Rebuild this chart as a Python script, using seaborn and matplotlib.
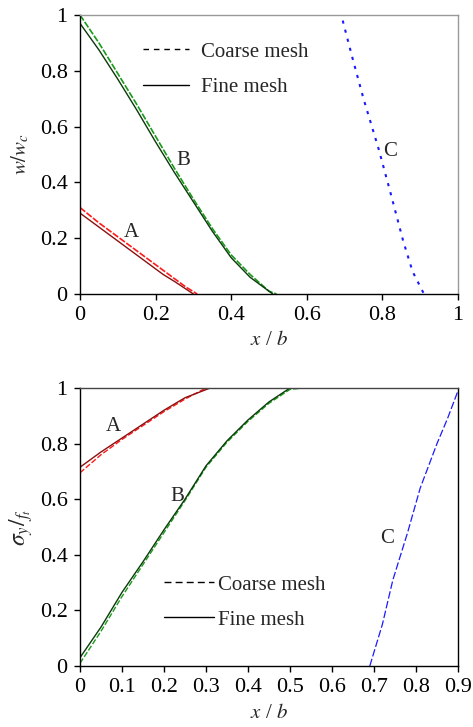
import matplotlib
matplotlib.use("Agg")
import matplotlib.pyplot as plt
import seaborn as sns

# ---- top panel data: w/wc vs x/b ----
top_A_coarse_x = [0.0, 0.05, 0.10, 0.14, 0.18, 0.22, 0.25, 0.28, 0.31]
top_A_coarse_y = [0.31, 0.255, 0.205, 0.165, 0.125, 0.085, 0.055, 0.025, 0.0]
top_A_fine_x = [0.0, 0.05, 0.10, 0.14, 0.18, 0.22, 0.25, 0.28, 0.30]
top_A_fine_y = [0.29, 0.24, 0.19, 0.15, 0.11, 0.07, 0.045, 0.018, 0.0]
top_B_coarse_x = [0.0, 0.05, 0.10, 0.15, 0.20, 0.25, 0.30, 0.35, 0.40, 0.45, 0.50, 0.52]
top_B_coarse_y = [1.0, 0.90, 0.79, 0.68, 0.565, 0.45, 0.34, 0.235, 0.14, 0.07, 0.01, 0.0]
top_B_fine_x = [0.0, 0.05, 0.10, 0.15, 0.20, 0.25, 0.30, 0.35, 0.40, 0.45, 0.51]
top_B_fine_y = [0.97, 0.875, 0.77, 0.66, 0.545, 0.435, 0.33, 0.225, 0.13, 0.06, 0.0]
top_C_x = [0.695, 0.72, 0.75, 0.79, 0.82, 0.855, 0.88, 0.91]
top_C_y = [0.98, 0.85, 0.70, 0.52, 0.37, 0.19, 0.08, 0.0]

# ---- bottom panel data: sigma_y/f_t vs x/b ----
bot_A_coarse_x = [0.0, 0.05, 0.10, 0.15, 0.20, 0.25, 0.30]
bot_A_coarse_y = [0.695, 0.76, 0.815, 0.865, 0.915, 0.96, 1.0]
bot_A_fine_x = [0.0, 0.05, 0.10, 0.15, 0.20, 0.25, 0.31]
bot_A_fine_y = [0.715, 0.77, 0.82, 0.87, 0.92, 0.965, 1.0]
bot_B_coarse_x = [0.0, 0.05, 0.10, 0.15, 0.20, 0.25, 0.30, 0.35, 0.40, 0.45, 0.50, 0.53]
bot_B_coarse_y = [0.01, 0.125, 0.25, 0.365, 0.48, 0.595, 0.715, 0.805, 0.88, 0.945, 0.995, 1.0]
bot_B_fine_x = [0.0, 0.05, 0.10, 0.15, 0.20, 0.25, 0.30, 0.35, 0.40, 0.45, 0.50]
bot_B_fine_y = [0.03, 0.14, 0.265, 0.375, 0.49, 0.60, 0.72, 0.81, 0.885, 0.95, 1.0]
bot_C_x = [0.69, 0.72, 0.745, 0.78, 0.81, 0.85, 0.875, 0.90]
bot_C_y = [0.0, 0.15, 0.31, 0.48, 0.64, 0.80, 0.89, 0.99]

top_xticks = [0, 0.2, 0.4, 0.6, 0.8, 1]
top_xticklabels = ["0", "0.2", "0.4", "0.6", "0.8", "1"]
bot_xticks = [0, 0.1, 0.2, 0.3, 0.4, 0.5, 0.6, 0.7, 0.8, 0.9]
bot_xticklabels = ["0", "0.1", "0.2", "0.3", "0.4", "0.5", "0.6", "0.7", "0.8", "0.9"]
yticks = [0, 0.2, 0.4, 0.6, 0.8, 1]
yticklabels = ["0", "0.2", "0.4", "0.6", "0.8", "1"]

sns.set_theme(style="ticks")
plt.rcParams["font.family"] = ["Liberation Serif", "DejaVu Serif"]
plt.rcParams["mathtext.fontset"] = "stix"
FS = 15
TFS = 16
plt.rcParams["font.size"] = FS

fig = plt.figure(figsize=(4.73, 7.27), dpi=100)
ax1 = fig.add_axes([80/473, 1-294/727, 378/473, 279/727])
ax2 = fig.add_axes([80/473, 1-666/727, 378/473, 278/727])

RED = "#ff1a1a"
DRED = "#8b1010"
GREEN = "#1a9a1a"
DGREEN = "#0a3a0a"
BLUE = "#1a1aff"

# top
sns.lineplot(x=top_A_coarse_x, y=top_A_coarse_y, ax=ax1, color=RED, lw=1.2, linestyle=(0, (4, 1)))
sns.lineplot(x=top_A_fine_x, y=top_A_fine_y, ax=ax1, color=DRED, lw=1.0)
sns.lineplot(x=top_B_coarse_x, y=top_B_coarse_y, ax=ax1, color=GREEN, lw=1.2, linestyle=(0, (4, 1)))
sns.lineplot(x=top_B_fine_x, y=top_B_fine_y, ax=ax1, color=DGREEN, lw=1.0)
sns.lineplot(x=top_C_x, y=top_C_y, ax=ax1, color=BLUE, lw=1.5, linestyle=(0, (1.5, 3)))

ax1.plot([], [], color="black", lw=1.0, linestyle=(0, (4, 3.5)), label="Coarse mesh")
ax1.plot([], [], color="black", lw=1.0, label="Fine mesh")
ax1.legend(loc="upper left", bbox_to_anchor=(0.117, 0.97), frameon=False, fontsize=FS,
           handlelength=2.2, labelspacing=0.75, handletextpad=0.6)

ax1.text(0.137, 0.22, "A", fontsize=FS, ha="center", va="center")
ax1.text(0.272, 0.48, "B", fontsize=FS, ha="center", va="center")
ax1.text(0.82, 0.51, "C", fontsize=FS, ha="center", va="center")

ax1.set_xlim(0, 1)
ax1.set_ylim(0, 1)
ax1.set_xticks(top_xticks)
ax1.set_xticklabels(top_xticklabels)
ax1.set_yticks(yticks)
ax1.set_yticklabels(yticklabels)
ax1.set_xlabel(r"$x$ / $b$", fontsize=FS, labelpad=4)
ax1.set_ylabel(r"$w/w_c$", fontsize=FS, labelpad=6)

# bottom
sns.lineplot(x=bot_A_coarse_x, y=bot_A_coarse_y, ax=ax2, color=RED, lw=1.0, linestyle=(0, (4, 1.5)))
sns.lineplot(x=bot_A_fine_x, y=bot_A_fine_y, ax=ax2, color=DRED, lw=1.0)
sns.lineplot(x=bot_B_coarse_x, y=bot_B_coarse_y, ax=ax2, color=GREEN, lw=1.0, linestyle=(0, (4, 1.5)))
sns.lineplot(x=bot_B_fine_x, y=bot_B_fine_y, ax=ax2, color=DGREEN, lw=1.0)
sns.lineplot(x=bot_C_x, y=bot_C_y, ax=ax2, color=BLUE, lw=0.9, linestyle=(0, (6, 2)))

ax2.plot([], [], color="black", lw=1.0, linestyle=(0, (5, 3)), label="Coarse mesh")
ax2.plot([], [], color="black", lw=1.0, label="Fine mesh")
ax2.legend(loc="upper left", bbox_to_anchor=(0.172, 0.395), frameon=False, fontsize=FS,
           handlelength=2.4, labelspacing=0.75, handletextpad=0.2)

ax2.text(0.079, 0.86, "A", fontsize=FS, ha="center", va="center")
ax2.text(0.232, 0.61, "B", fontsize=FS, ha="center", va="center")
ax2.text(0.73, 0.46, "C", fontsize=FS, ha="center", va="center")

ax2.set_xlim(0, 0.9)
ax2.set_ylim(0, 1)
ax2.set_xticks(bot_xticks)
ax2.set_xticklabels(bot_xticklabels)
ax2.set_yticks(yticks)
ax2.set_yticklabels(yticklabels)
ax2.set_xlabel(r"$x$ / $b$", fontsize=FS, labelpad=5)
ax2.set_ylabel(r"$\sigma_y/_{f_t}$", fontsize=17, labelpad=3)

for ax in (ax1, ax2):
    for s in ax.spines.values():
        s.set_linewidth(1.0)
        s.set_color("black")
    ax.tick_params(direction="out", length=4, width=1.0, colors="black", labelsize=TFS, pad=5)
ax1.spines["top"].set_color("#999999")
ax1.spines["right"].set_color("#999999")
ax2.spines["top"].set_color("#444444")

fig.savefig("out.png", dpi=100)
